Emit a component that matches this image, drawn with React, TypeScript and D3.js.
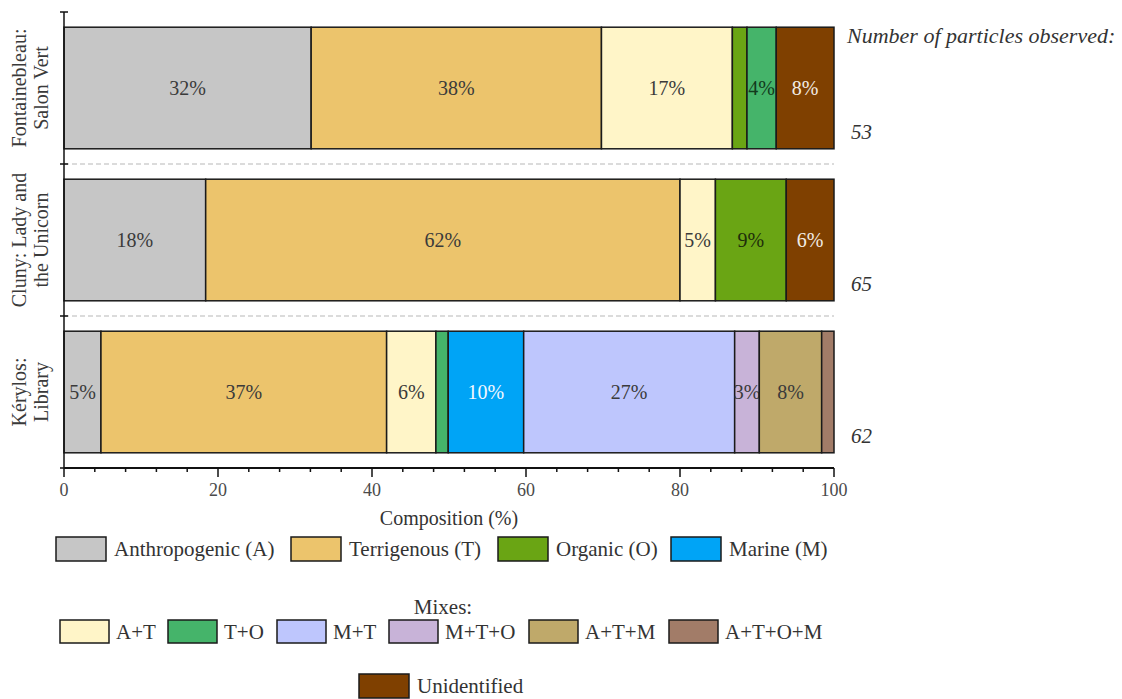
import React from "react";
import * as d3 from "d3";

// sites (y categories) and particle counts
const siteKeys = ["Fontainebleau", "Cluny", "Kerylos"];
const siteLines = [
	["Fontainebleau:", "Salon Vert"],
	["Cluny: Lady and", "the Unicorn"],
	["Kérylos:", "Library"],
];
const particleCounts = [53, 65, 62];

// composition (%) per site
const anthropogenic = [32.1, 18.4, 4.8];
const terrigenous = [37.7, 61.6, 37.1];
const mixAT = [17.0, 4.6, 6.4];
const organic = [1.9, 9.2, 0];
const mixTO = [3.8, 0, 1.6];
const marine = [0, 0, 9.8];
const mixMT = [0, 0, 27.4];
const mixMTO = [0, 0, 3.2];
const mixATM = [0, 0, 8.1];
const mixATOM = [0, 0, 1.6];
const unidentified = [7.5, 6.2, 0];

const xTicks = [0, 20, 40, 60, 80, 100];

const series = [
	{ key: "A", label: "Anthropogenic (A)", color: "#c6c6c6", ink: "#3a3a3a", values: anthropogenic },
	{ key: "T", label: "Terrigenous (T)", color: "#ecc46c", ink: "#3a3a3a", values: terrigenous },
	{ key: "AT", label: "A+T", color: "#fff5c8", ink: "#3a3a3a", values: mixAT },
	{ key: "O", label: "Organic (O)", color: "#6aa514", ink: "#1e2e0a", values: organic },
	{ key: "TO", label: "T+O", color: "#45b46a", ink: "#123a1c", values: mixTO },
	{ key: "M", label: "Marine (M)", color: "#00a4f6", ink: "#f4f8ff", values: marine },
	{ key: "MT", label: "M+T", color: "#bec6fd", ink: "#3a3a3a", values: mixMT },
	{ key: "MTO", label: "M+T+O", color: "#c8b3d8", ink: "#3a3a3a", values: mixMTO },
	{ key: "ATM", label: "A+T+M", color: "#bfa96a", ink: "#3a3a3a", values: mixATM },
	{ key: "ATOM", label: "A+T+O+M", color: "#a27c68", ink: "#3a3a3a", values: mixATOM },
	{ key: "U", label: "Unidentified", color: "#7f4000", ink: "#f2ece4", values: unidentified },
];

// legend groups
const legendMain = ["A", "T", "O", "M"];
const legendMixes = ["AT", "TO", "MT", "MTO", "ATM", "ATOM"];

const W = 1122;
const H = 699;
const FONT = "'Liberation Serif', 'Times New Roman', serif";

export default function App() {
	const x = d3.scaleLinear().domain([0, 100]).range([64, 834]);
	const y = d3.scaleBand().domain(siteKeys).range([12, 468]).paddingInner(0.2).paddingOuter(0.1);
	const step = y.step();

	const rows = siteKeys.map((s, i) => {
		const r: any = { site: s };
		series.forEach((c) => (r[c.key] = c.values[i]));
		return r;
	});
	const stacked = d3.stack().keys(series.map((c) => c.key))(rows as any);
	const byKey = new Map(series.map((c) => [c.key, c]));

	const minorTicks = d3.range(0, 101, 4);
	const boundaries = d3.range(0, siteKeys.length + 1).map((i) => 12 + i * step);

	// legend layout
	const row1X = [56, 291, 498, 671];
	const row2X = [60, 168, 277, 389, 529, 669];

	return (
		<svg width={W} height={H} style={{ position: "absolute", left: 0, top: 0, fontFamily: FONT }}>
			<rect width={W} height={H} fill="#fff" />

			{/* dashed separators between sites */}
			{boundaries.slice(1, -1).map((b, i) => (
				<line key={i} x1={x(0)} x2={x(100)} y1={b} y2={b} stroke="#cfcfcf" strokeWidth={1.5} strokeDasharray="5,3" />
			))}

			{/* stacked bars */}
			{stacked.map((layer) => {
				const c = byKey.get(layer.key)!;
				return (
					<g key={layer.key}>
						{layer.map((d, i) => {
							const v = d[1] - d[0];
							if (v <= 0) return null;
							const y0 = y(siteKeys[i])!;
							return (
								<g key={i}>
									<rect
										x={x(d[0])}
										y={y0}
										width={x(d[1]) - x(d[0])}
										height={y.bandwidth()}
										fill={c.color}
										stroke="#1a1a1a"
										strokeWidth={1.5}
									/>
									{v >= 3 && (
										<text
											x={(x(d[0]) + x(d[1])) / 2}
											y={y0 + y.bandwidth() / 2}
											dy="0.35em"
											textAnchor="middle"
											fontSize={20}
											fill={c.ink}
										>
											{Math.round(v)}%
										</text>
									)}
								</g>
							);
						})}
					</g>
				);
			})}

			{/* left axis */}
			<line x1={x(0)} x2={x(0)} y1={12} y2={468} stroke="#111" strokeWidth={1.5} />
			{boundaries.map((b, i) => (
				<line key={i} x1={x(0) - 4} x2={x(0) + 4} y1={b} y2={b} stroke="#111" strokeWidth={1.5} />
			))}

			{/* site labels, rotated */}
			{siteKeys.map((s, i) => {
				const cy = y(s)! + y.bandwidth() / 2;
				return (
					<text key={s} transform={`translate(31,${cy}) rotate(-90)`} textAnchor="middle" fontSize={20} fill="#3a3a3a">
						<tspan x={0} dy="-0.25em">{siteLines[i][0]}</tspan>
						<tspan x={0} dy="1.1em">{siteLines[i][1]}</tspan>
					</text>
				);
			})}

			{/* bottom axis */}
			<line x1={x(0)} x2={x(100)} y1={468} y2={468} stroke="#111" strokeWidth={1.8} />
			{minorTicks.map((t) => (
				<line key={t} x1={x(t)} x2={x(t)} y1={468} y2={t % 20 === 0 ? 477 : 472} stroke="#111" strokeWidth={1.5} />
			))}
			{xTicks.map((t) => (
				<text key={t} x={x(t)} y={496} textAnchor="middle" fontSize={18} fill="#4a4a4a">
					{t}
				</text>
			))}
			<text x={449} y={525} textAnchor="middle" fontSize={20} fill="#333">
				Composition (%)
			</text>

			{/* particle counts */}
			<text x={847} y={43} fontSize={22} fontStyle="italic" fill="#333">
				Number of particles observed:
			</text>
			{siteKeys.map((s, i) => (
				<text key={s} x={851} y={y(s)! + y.bandwidth() - 10} fontSize={21} fontStyle="italic" fill="#333">
					{particleCounts[i]}
				</text>
			))}

			{/* legend */}
			{legendMain.map((k, i) => {
				const c = byKey.get(k)!;
				return (
					<g key={k} transform={`translate(${row1X[i]},537)`}>
						<rect width={50} height={24} fill={c.color} stroke="#1a1a1a" strokeWidth={1.5} />
						<text x={58} y={12} dy="0.35em" fontSize={21} fill="#333">
							{c.label}
						</text>
					</g>
				);
			})}
			<text x={443} y={607} dy="0.35em" textAnchor="middle" fontSize={21} fill="#333">
				Mixes:
			</text>
			{legendMixes.map((k, i) => {
				const c = byKey.get(k)!;
				return (
					<g key={k} transform={`translate(${row2X[i]},620)`}>
						<rect width={49} height={23} fill={c.color} stroke="#1a1a1a" strokeWidth={1.5} />
						<text x={56} y={11.5} dy="0.35em" fontSize={21} fill="#333">
							{c.label}
						</text>
					</g>
				);
			})}
			<g transform="translate(359,674)">
				<rect width={50} height={24} fill={byKey.get("U")!.color} stroke="#1a1a1a" strokeWidth={1.5} />
				<text x={58} y={12} dy="0.35em" fontSize={21} fill="#333">
					{byKey.get("U")!.label}
				</text>
			</g>
		</svg>
	);
}
